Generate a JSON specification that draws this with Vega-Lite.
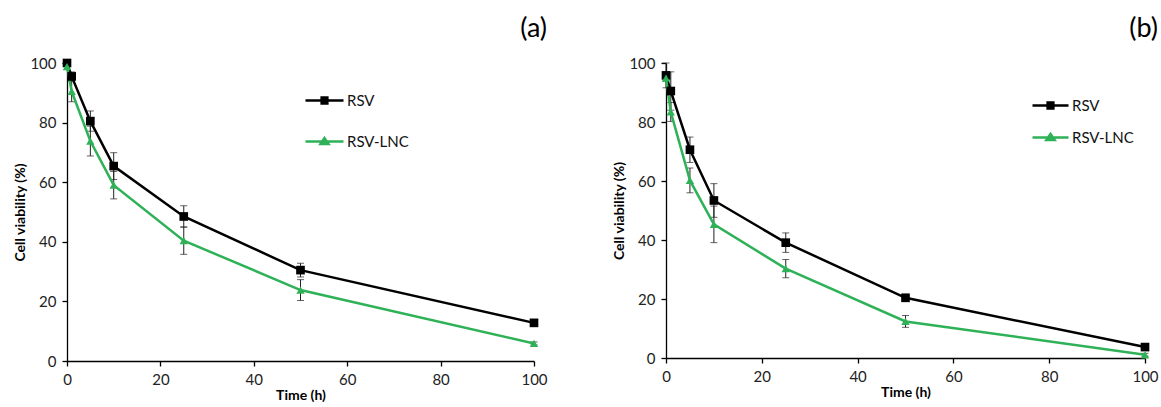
{
  "$schema": "https://vega.github.io/schema/vega-lite/v6.json",
  "padding": {"left": 13, "top": 15, "right": 5, "bottom": 2},
  "background": "white",
  "config": {
    "font": "Lato",
    "view": {"stroke": null},
    "axis": {"grid": false, "domainColor": "#000", "tickColor": "#000", "domainWidth": 1.3, "tickWidth": 1.3, "tickSize": 5, "labelFont": "Lato", "labelFontSize": 15, "labelColor": "#222", "titleFont": "Lato", "titleFontSize": 14, "titleFontWeight": "bold", "titleColor": "#000", "labelPadding": 6, "labelFlush": false},
    "title": {"font": "Lato", "fontSize": 27, "fontWeight": "normal", "anchor": "end", "color": "#000"},
    "legend": {"labelFont": "Lato", "labelFontSize": 15, "labelColor": "#111", "title": null}
  },
  "datasets": {
    "d": [
      {"panel": "a", "series": "RSV", "time": 0, "value": 100, "sd": 0.5},
      {"panel": "a", "series": "RSV", "time": 1, "value": 95.5, "sd": 1.5},
      {"panel": "a", "series": "RSV", "time": 5, "value": 80.5, "sd": 3.4},
      {"panel": "a", "series": "RSV", "time": 10, "value": 65.4, "sd": 4.5},
      {"panel": "a", "series": "RSV", "time": 25, "value": 48.5, "sd": 3.6},
      {"panel": "a", "series": "RSV", "time": 50, "value": 30.5, "sd": 2.3},
      {"panel": "a", "series": "RSV", "time": 100, "value": 12.8, "sd": 0.6},
      {"panel": "a", "series": "RSV-LNC", "time": 0, "value": 98.8, "sd": 1},
      {"panel": "a", "series": "RSV-LNC", "time": 1, "value": 90.5, "sd": 3.5},
      {"panel": "a", "series": "RSV-LNC", "time": 5, "value": 73.8, "sd": 5},
      {"panel": "a", "series": "RSV-LNC", "time": 10, "value": 59, "sd": 4.6},
      {"panel": "a", "series": "RSV-LNC", "time": 25, "value": 40.4, "sd": 4.6},
      {"panel": "a", "series": "RSV-LNC", "time": 50, "value": 23.8, "sd": 3.5},
      {"panel": "a", "series": "RSV-LNC", "time": 100, "value": 5.9, "sd": 0.5},
      {"panel": "b", "series": "RSV", "time": 0, "value": 95.8, "sd": 4.2},
      {"panel": "b", "series": "RSV", "time": 1, "value": 90.5, "sd": 6.5},
      {"panel": "b", "series": "RSV", "time": 5, "value": 70.6, "sd": 4.3},
      {"panel": "b", "series": "RSV", "time": 10, "value": 53.4, "sd": 5.7},
      {"panel": "b", "series": "RSV", "time": 25, "value": 39.1, "sd": 3.3},
      {"panel": "b", "series": "RSV", "time": 50, "value": 20.4, "sd": 1.2},
      {"panel": "b", "series": "RSV", "time": 100, "value": 3.7, "sd": 0.6},
      {"panel": "b", "series": "RSV-LNC", "time": 0, "value": 94.9, "sd": 1},
      {"panel": "b", "series": "RSV-LNC", "time": 1, "value": 83.4, "sd": 3.2},
      {"panel": "b", "series": "RSV-LNC", "time": 5, "value": 60.2, "sd": 4.2},
      {"panel": "b", "series": "RSV-LNC", "time": 10, "value": 45.3, "sd": 6.2},
      {"panel": "b", "series": "RSV-LNC", "time": 25, "value": 30.3, "sd": 3.1},
      {"panel": "b", "series": "RSV-LNC", "time": 50, "value": 12.4, "sd": 2},
      {"panel": "b", "series": "RSV-LNC", "time": 100, "value": 1.1, "sd": 0.5}
    ]
  },
  "spacing": 64,
  "resolve": {"legend": {"color": "independent"}, "scale": {"x": "independent", "y": "independent", "color": "independent"}},
  "hconcat": [
    {
      "title": {"text": "(a)", "offset": 13},
      "width": 467,
      "height": 298,
      "data": {"name": "d"},
      "transform": [{"filter": "datum.panel === 'a'"}],
      "encoding": {
        "x": {"field": "time", "type": "quantitative", "scale": {"domain": [0, 100], "nice": false}, "axis": {"values": [0, 20, 40, 60, 80, 100], "title": "Time (h)", "titlePadding": 1}},
        "y": {"field": "value", "type": "quantitative", "scale": {"domain": [0, 100], "nice": false}, "axis": {"values": [0, 20, 40, 60, 80, 100], "title": "Cell viability (%)", "titlePadding": 2}},
        "color": {"field": "series", "type": "nominal", "scale": {"domain": ["RSV", "RSV-LNC"], "range": ["#000000", "#2eb157"]},
          "legend": {"orient": "none", "legendX": 237, "legendY": 17, "symbolSize": 1444, "rowPadding": 12, "labelOffset": 2, "symbolStrokeWidth": 2,
            "encode": {"symbols": {"update": {
              "shape": {"signal": "datum.value === 'RSV' ? 'M-1,0H1M-0.15,-0.16H0.15V0.16H-0.15Z' : 'M-1,0H1M0,-0.18L0.21,0.13H-0.21Z'"},
              "stroke": {"signal": "datum.value === 'RSV' ? '#000000' : '#2eb157'"},
              "fill": {"signal": "datum.value === 'RSV' ? '#000000' : '#2eb157'"},
              "strokeWidth": {"value": 2.5}}}}}}
      },
      "layer": [
        {"mark": {"type": "errorbar", "color": "#222", "thickness": 1, "ticks": {"size": 7, "color": "#222", "thickness": 1}}, "encoding": {"yError": {"field": "sd"}, "color": {"value": "#222"}, "detail": {"field": "series"}}},
        {"mark": {"type": "line", "strokeWidth": 2.5}},
        {"transform": [{"filter": "datum.series === 'RSV'"}], "mark": {"type": "point", "filled": true, "opacity": 1, "shape": "square", "size": 75}},
        {"transform": [{"filter": "datum.series === 'RSV-LNC'"}], "mark": {"type": "point", "filled": true, "opacity": 1, "shape": "triangle-up", "size": 70}}
      ]
    },
    {
      "title": {"text": "(b)", "offset": 13},
      "width": 479,
      "height": 295,
      "data": {"name": "d"},
      "transform": [{"filter": "datum.panel === 'b'"}],
      "encoding": {
        "x": {"field": "time", "type": "quantitative", "scale": {"domain": [0, 100], "nice": false}, "axis": {"values": [0, 20, 40, 60, 80, 100], "title": "Time (h)", "titlePadding": 1}},
        "y": {"field": "value", "type": "quantitative", "scale": {"domain": [0, 100], "nice": false}, "axis": {"values": [0, 20, 40, 60, 80, 100], "title": "Cell viability (%)", "titlePadding": 2}},
        "color": {"field": "series", "type": "nominal", "scale": {"domain": ["RSV", "RSV-LNC"], "range": ["#000000", "#2eb157"]},
          "legend": {"orient": "none", "legendX": 365, "legendY": 23, "symbolSize": 1296, "rowPadding": 4, "labelOffset": 2, "symbolStrokeWidth": 2,
            "encode": {"symbols": {"update": {
              "shape": {"signal": "datum.value === 'RSV' ? 'M-1,0H1M-0.16,-0.17H0.16V0.17H-0.16Z' : 'M-1,0H1M0,-0.2L0.23,0.14H-0.23Z'"},
              "stroke": {"signal": "datum.value === 'RSV' ? '#000000' : '#2eb157'"},
              "fill": {"signal": "datum.value === 'RSV' ? '#000000' : '#2eb157'"},
              "strokeWidth": {"value": 2.5}}}}}}
      },
      "layer": [
        {"mark": {"type": "errorbar", "color": "#222", "thickness": 1, "ticks": {"size": 7, "color": "#222", "thickness": 1}}, "encoding": {"yError": {"field": "sd"}, "color": {"value": "#222"}, "detail": {"field": "series"}}},
        {"mark": {"type": "line", "strokeWidth": 2.5}},
        {"transform": [{"filter": "datum.series === 'RSV'"}], "mark": {"type": "point", "filled": true, "opacity": 1, "shape": "square", "size": 75}},
        {"transform": [{"filter": "datum.series === 'RSV-LNC'"}], "mark": {"type": "point", "filled": true, "opacity": 1, "shape": "triangle-up", "size": 70}}
      ]
    }
  ]
}
